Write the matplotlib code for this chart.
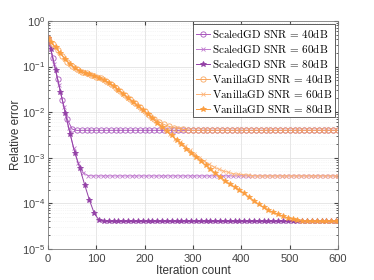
import matplotlib
matplotlib.use('Agg')
import matplotlib.pyplot as plt

plt.rcParams['font.family'] = ['Liberation Sans', 'DejaVu Sans']
plt.rcParams['mathtext.fontset'] = 'cm'

# iteration grids (markers staggered per SNR level)
it_40 = list(range(0, 601, 10))
it_60 = [0] + list(range(3, 600, 10)) + [600]
it_80 = [0] + list(range(6, 600, 10)) + [600]

# ScaledGD
scaled_40 = [0.427, 0.158, 0.0537, 0.0182, 0.00708, 0.00427, 0.00398,
             4.0e-3, 4.0e-3, 4.0e-3, 4.0e-3, 4.0e-3, 4.0e-3, 4.0e-3, 4.0e-3, 4.0e-3, 4.0e-3,
             4.0e-3, 4.0e-3, 4.0e-3, 4.0e-3, 4.0e-3, 4.0e-3, 4.0e-3, 4.0e-3, 4.0e-3, 4.0e-3,
             4.0e-3, 4.0e-3, 4.0e-3, 4.0e-3, 4.0e-3, 4.0e-3, 4.0e-3, 4.0e-3, 4.0e-3, 4.0e-3,
             4.0e-3, 4.0e-3, 4.0e-3, 4.0e-3, 4.0e-3, 4.0e-3, 4.0e-3, 4.0e-3, 4.0e-3, 4.0e-3,
             4.0e-3, 4.0e-3, 4.0e-3, 4.0e-3, 4.0e-3, 4.0e-3, 4.0e-3, 4.0e-3, 4.0e-3, 4.0e-3,
             4.0e-3, 4.0e-3, 4.0e-3, 4.0e-3]
scaled_60 = [0.427, 0.331, 0.115, 0.0389, 0.0132, 0.00457, 0.00166, 7.6e-4, 4.7e-4, 4.07e-4,
             4.0e-4, 4.0e-4, 4.0e-4, 4.0e-4, 4.0e-4, 4.0e-4, 4.0e-4, 4.0e-4, 4.0e-4, 4.0e-4,
             4.0e-4, 4.0e-4, 4.0e-4, 4.0e-4, 4.0e-4, 4.0e-4, 4.0e-4, 4.0e-4, 4.0e-4, 4.0e-4,
             4.0e-4, 4.0e-4, 4.0e-4, 4.0e-4, 4.0e-4, 4.0e-4, 4.0e-4, 4.0e-4, 4.0e-4, 4.0e-4,
             4.0e-4, 4.0e-4, 4.0e-4, 4.0e-4, 4.0e-4, 4.0e-4, 4.0e-4, 4.0e-4, 4.0e-4, 4.0e-4,
             4.0e-4, 4.0e-4, 4.0e-4, 4.0e-4, 4.0e-4, 4.0e-4, 4.0e-4, 4.0e-4, 4.0e-4, 4.0e-4,
             4.0e-4, 4.0e-4]
scaled_80 = [0.427, 0.240, 0.0832, 0.0282, 0.00955, 0.00331, 0.00126, 5.9e-4, 2.57e-4, 1.17e-4,
             6.0e-5, 4.27e-5,
             4.0e-5, 4.0e-5, 4.0e-5, 4.0e-5, 4.0e-5, 4.0e-5, 4.0e-5, 4.0e-5, 4.0e-5, 4.0e-5,
             4.0e-5, 4.0e-5, 4.0e-5, 4.0e-5, 4.0e-5, 4.0e-5, 4.0e-5, 4.0e-5, 4.0e-5, 4.0e-5,
             4.0e-5, 4.0e-5, 4.0e-5, 4.0e-5, 4.0e-5, 4.0e-5, 4.0e-5, 4.0e-5, 4.0e-5, 4.0e-5,
             4.0e-5, 4.0e-5, 4.0e-5, 4.0e-5, 4.0e-5, 4.0e-5, 4.0e-5, 4.0e-5, 4.0e-5, 4.0e-5,
             4.0e-5, 4.0e-5, 4.0e-5, 4.0e-5, 4.0e-5, 4.0e-5, 4.0e-5, 4.0e-5, 4.0e-5, 4.0e-5]

# VanillaGD
vanilla_40 = [0.427, 0.309, 0.234, 0.174, 0.129, 0.105, 0.0871, 0.0776, 0.0708, 0.0661,
              0.0603, 0.0550, 0.0490, 0.0417, 0.0347, 0.0288, 0.0234, 0.0191, 0.0158, 0.0132,
              0.0107, 0.00871, 0.00724, 0.00617, 0.00537, 0.00490, 0.00457, 0.00437, 0.00417,
              0.00407, 0.00398,
              4.0e-3, 4.0e-3, 4.0e-3, 4.0e-3, 4.0e-3, 4.0e-3, 4.0e-3, 4.0e-3, 4.0e-3, 4.0e-3,
              4.0e-3, 4.0e-3, 4.0e-3, 4.0e-3, 4.0e-3, 4.0e-3, 4.0e-3, 4.0e-3, 4.0e-3, 4.0e-3,
              4.0e-3, 4.0e-3, 4.0e-3, 4.0e-3, 4.0e-3, 4.0e-3, 4.0e-3, 4.0e-3, 4.0e-3, 4.0e-3]
vanilla_60 = [0.427, 0.380, 0.288, 0.214, 0.158, 0.120, 0.0977, 0.0832, 0.0759, 0.0692,
              0.0646, 0.0589, 0.0525, 0.0468, 0.0398, 0.0324, 0.0269, 0.0219, 0.0178, 0.0148,
              0.0120, 0.00977, 0.00776, 0.00631, 0.00501, 0.00407, 0.00324, 0.00263, 0.00219,
              0.00178, 0.00145, 0.00120, 0.00100, 8.51e-4, 7.24e-4, 6.31e-4, 5.62e-4, 5.13e-4,
              4.79e-4, 4.47e-4, 4.37e-4, 4.27e-4, 4.17e-4, 4.07e-4,
              4.0e-4, 4.0e-4, 4.0e-4, 4.0e-4, 4.0e-4, 4.0e-4, 4.0e-4, 4.0e-4, 4.0e-4,
              4.0e-4, 4.0e-4, 4.0e-4, 4.0e-4, 4.0e-4, 4.0e-4, 4.0e-4, 4.0e-4, 4.0e-4]
vanilla_80 = [0.427, 0.347, 0.263, 0.195, 0.145, 0.112, 0.0933, 0.0813, 0.0741, 0.0676,
              0.0631, 0.0575, 0.0513, 0.0447, 0.0372, 0.0309, 0.0251, 0.0204, 0.0170, 0.0138,
              0.0112, 0.00912, 0.00741, 0.00589, 0.00479, 0.00380, 0.00309, 0.00245, 0.00200,
              0.00158, 0.00129, 0.00105, 8.51e-4, 6.92e-4, 5.62e-4, 4.57e-4, 3.80e-4, 3.16e-4,
              2.69e-4, 2.29e-4, 1.95e-4, 1.66e-4, 1.35e-4, 1.15e-4, 9.55e-5, 8.13e-5, 7.08e-5,
              6.31e-5, 5.75e-5, 5.25e-5, 4.79e-5, 4.47e-5, 4.27e-5, 4.07e-5,
              4.0e-5, 4.0e-5, 4.0e-5, 4.0e-5, 4.0e-5, 4.0e-5, 4.0e-5, 4.0e-5]

labels = [r'$\mathrm{ScaledGD\ SNR\,=\,40dB}$', r'$\mathrm{ScaledGD\ SNR\,=\,60dB}$',
          r'$\mathrm{ScaledGD\ SNR\,=\,80dB}$', r'$\mathrm{VanillaGD\ SNR\,=\,40dB}$',
          r'$\mathrm{VanillaGD\ SNR\,=\,60dB}$', r'$\mathrm{VanillaGD\ SNR\,=\,80dB}$']

fig = plt.figure(figsize=(3.74, 2.8), dpi=100)
ax = fig.add_axes([0.128, 0.111, 0.776, 0.814])

kw = dict(lw=0.7, ms=3.8, mew=0.6)
ax.plot(it_40, scaled_40, '-o', color='#A855BC', mfc='none', label=labels[0], **kw)
ax.plot(it_60, scaled_60, '-x', color='#C07ACF', label=labels[1], lw=0.7, ms=3, mew=0.6)
ax.plot(it_80, scaled_80, '-*', color='#9340A6', label=labels[2], **kw)
ax.plot(it_40, vanilla_40, '-o', color='#F9A860', mfc='none', label=labels[3], **kw)
ax.plot(it_60, vanilla_60, '-x', color='#FDB57A', label=labels[4], lw=0.7, ms=3, mew=0.6)
ax.plot(it_80, vanilla_80, '-*', color='#FB9E40', label=labels[5], **kw)

ax.set_yscale('log')
ax.set_xlim(0, 600)
ax.set_ylim(1e-5, 1)
ax.set_xticks([0, 100, 200, 300, 400, 500, 600])
ax.grid(True, which='major', color='#E3E3E3', lw=0.6)
ax.grid(True, which='minor', color='#EDEDED', lw=0.5, ls=':')
ax.set_axisbelow(True)
ax.tick_params(which='both', direction='in', top=True, right=True, colors='#444444', labelsize=8)
ax.tick_params(which='major', length=3)
ax.tick_params(which='minor', length=1.5)
ax.tick_params(axis='y', pad=2)
for s in ax.spines.values():
    s.set_color('#7F7F7F')
    s.set_linewidth(0.6)

ax.set_xlabel('Iteration count', fontsize=8.5, color='#333333', labelpad=1)
ax.set_ylabel('Relative error', fontsize=8.5, color='#333333')
ax.yaxis.set_label_coords(-0.09, 0.5)

leg = ax.legend(loc='upper right', fontsize=8, handlelength=1.3, handletextpad=0.2,
                borderpad=0.2, labelspacing=0.18, borderaxespad=0.3, fancybox=False,
                framealpha=1)
leg.get_frame().set_edgecolor('#444444')
leg.get_frame().set_linewidth(0.6)

fig.savefig('out.png', dpi=100)
